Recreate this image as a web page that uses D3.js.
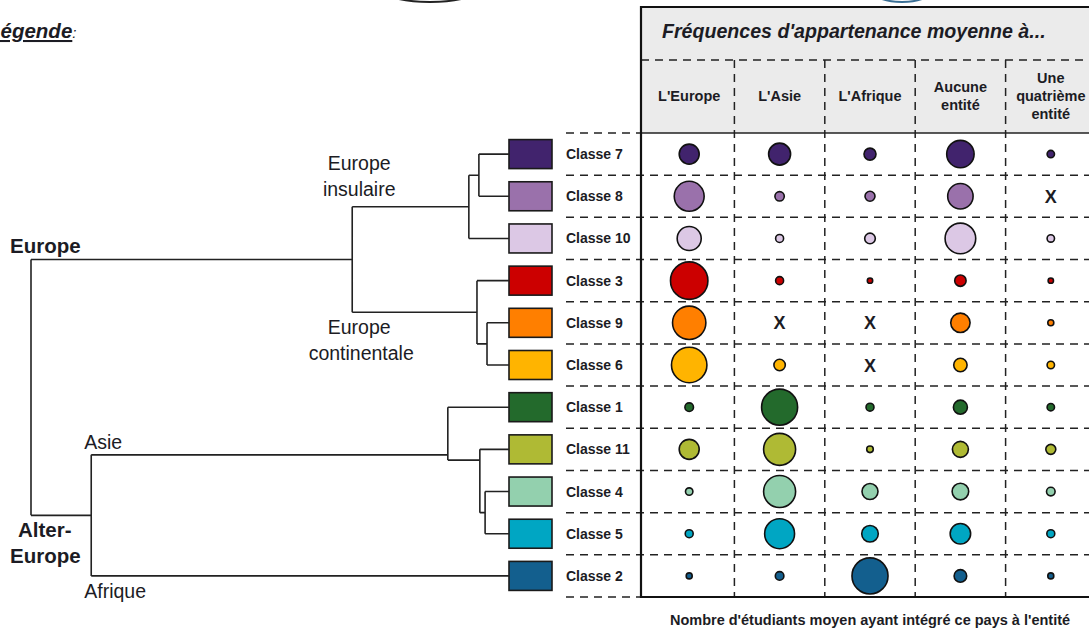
<!DOCTYPE html>
<html lang="fr">
<head>
<meta charset="utf-8">
<title>Classes et entités</title>
<script src="https://cdn.jsdelivr.net/npm/d3@7"></script>
<style>
	body { margin: 0; background: #fff; font-family: "Liberation Sans", Arial, sans-serif; }
	svg { display: block; }
	.rule { stroke: #222; stroke-width: 1.5; stroke-dasharray: 8 6; fill: none; }
	.branch { stroke: #222; stroke-width: 1.6; fill: none; }
	.lbl { fill: #1c1c24; }
</style>
</head>
<body>
<svg id="chart" width="1089" height="632"></svg>
<script>
// leaf order of the dendrogram = row order of the table
var classes = ["Classe 7", "Classe 8", "Classe 10", "Classe 3", "Classe 9", "Classe 6",
	"Classe 1", "Classe 11", "Classe 4", "Classe 5", "Classe 2"]
var classColors = ["#41236d", "#9a71ab", "#dcc8e5", "#cc0000", "#ff7f00", "#ffb400",
	"#236a2c", "#afba34", "#93d0ae", "#00a6c3", "#135f8e"]
var entities = ["europe", "asie", "afrique", "aucune", "quatrieme"]
var entityLabels = [["L'Europe"], ["L'Asie"], ["L'Afrique"], ["Aucune", "entité"], ["Une", "quatrième", "entité"]]

// mean number of students (relative units), one row per class; null = "X"
var values = [
	[27.7, 33.5, 10, 52, 3.8],
	[62, 6.1, 6.9, 44.7, null],
	[40, 4.4, 7.8, 65, 3.8],
	[97, 4.4, 2, 9, 2],
	[77, null, null, 26, 2.5],
	[87, 9, null, 12.4, 3.8],
	[5.1, 90, 4.4, 13.6, 3.8],
	[27.7, 71, 3, 17.7, 6.9],
	[3.8, 71, 17.7, 19, 5.1],
	[4.4, 62, 19, 29, 4.4],
	[2.5, 5.1, 90, 11, 2.5]
]

// dendrogram: h = merge height, bias = where the parent link joins the vertical (0.5 = middle)
var tree = {name: "root", h: 100, children: [
	{name: "Europe", h: 32.8, children: [
		{name: "Europe insulaire", h: 8.4, children: [
			{h: 6.3, children: [{name: "Classe 7"}, {name: "Classe 8"}]},
			{name: "Classe 10"}]},
		{name: "Europe continentale", h: 6.7, children: [
			{name: "Classe 3"},
			{h: 4.6, children: [{name: "Classe 9"}, {name: "Classe 6"}]}]}]},
	{name: "Alter-Europe", h: 87.4, children: [
		{name: "Asie", h: 12.8, bias: 0.9, children: [
			{name: "Classe 1"},
			{h: 6.1, bias: 0.17, children: [
				{name: "Classe 11"},
				{h: 5.0, children: [{name: "Classe 4"}, {name: "Classe 5"}]}]}]},
		{name: "Classe 2"}]}
]}

var svg = d3.select("#chart")
var W = 1089

var row = d3.scaleBand().domain(classes).range([133, 597])
var col = d3.scaleBand().domain(entities).range([644, 1096])
var rad = d3.scaleSqrt().domain([0, 100]).range([0, 19])
var hx = d3.scaleLinear().domain([0, 100]).range([509, 31])
var yc = function(c) { return row(c) + row.bandwidth() / 2 }
var tableL = 641, tableT = 7, titleB = 60, headB = 133, tableB = 597

// small cut-off shapes at the top edge
svg.append("ellipse").attr("cx", 430).attr("cy", -10).attr("rx", 47).attr("ry", 12)
	.attr("fill", "none").attr("stroke", "#222").attr("stroke-width", 2)
svg.append("ellipse").attr("cx", 902).attr("cy", -8).attr("rx", 28).attr("ry", 10)
	.attr("fill", "none").attr("stroke", "#3a6f95").attr("stroke-width", 2)

// "Légende:" (the L is cut by the page edge, as in the original)
var leg = svg.append("text").attr("x", -12).attr("y", 38).attr("font-size", 20.5).attr("class", "lbl")
leg.append("tspan").attr("font-weight", "bold").attr("font-style", "italic")
	.attr("text-decoration", "underline").text("Légende")
leg.append("tspan").attr("font-style", "italic").attr("font-size", 15).text(":")

// ---- table header ----
svg.append("rect").attr("x", tableL).attr("y", tableT).attr("width", W - tableL + 5)
	.attr("height", headB - tableT).attr("fill", "#ebebeb")
svg.append("text").attr("x", 662).attr("y", 38).attr("font-size", 19.6)
	.attr("font-weight", "bold").attr("font-style", "italic").attr("class", "lbl")
	.text("Fréquences d'appartenance moyenne à...")
svg.append("line").attr("class", "rule").attr("x1", tableL).attr("x2", W + 5)
	.attr("y1", titleB).attr("y2", titleB)

entityLabels.forEach(function(lines, j) {
	var t = svg.append("text").attr("text-anchor", "middle").attr("font-size", 14.5)
		.attr("font-weight", "bold").attr("class", "lbl")
	lines.forEach(function(s, i) {
		t.append("tspan").attr("x", col(entities[j]) + col.bandwidth() / 2)
			.attr("y", 101 + (i - (lines.length - 1) / 2) * 18).text(s)
	})
})

// column separators
svg.selectAll(".vsep").data(entities.slice(1)).enter().append("line")
	.attr("class", "rule vsep")
	.attr("x1", function(d) { return col(d) }).attr("x2", function(d) { return col(d) })
	.attr("y1", titleB).attr("y2", tableB)

// row separators (they run from the class labels across the table)
svg.selectAll(".hsep").data(classes.slice(1)).enter().append("line")
	.attr("class", "rule hsep")
	.attr("x1", 566).attr("x2", W + 5)
	.attr("y1", function(d) { return row(d) }).attr("y2", function(d) { return row(d) })
svg.selectAll(".hedge").data([headB, tableB]).enter().append("line")
	.attr("class", "rule hedge")
	.attr("x1", 566).attr("x2", tableL)
	.attr("y1", function(d) { return d }).attr("y2", function(d) { return d })

// borders
svg.append("line").attr("x1", tableL).attr("x2", W + 5).attr("y1", headB).attr("y2", headB)
	.attr("stroke", "#222").attr("stroke-width", 1.6)
svg.append("path").attr("d", "M" + (W + 5) + "," + tableT + "H" + tableL + "V" + tableB + "H" + (W + 5))
	.attr("fill", "none").attr("stroke", "#111").attr("stroke-width", 2.2)

// ---- cells ----
var cells = []
values.forEach(function(r, i) {
	r.forEach(function(v, j) { cells.push({c: classes[i], e: entities[j], v: v, color: classColors[i]}) })
})
svg.selectAll(".dot").data(cells.filter(function(d) { return d.v != null })).enter().append("circle")
	.attr("class", "dot")
	.attr("cx", function(d) { return col(d.e) + col.bandwidth() / 2 })
	.attr("cy", function(d) { return yc(d.c) })
	.attr("r", function(d) { return rad(d.v) })
	.attr("fill", function(d) { return d.color })
	.attr("stroke", "#111").attr("stroke-width", 1.6)
svg.selectAll(".miss").data(cells.filter(function(d) { return d.v == null })).enter().append("text")
	.attr("class", "miss lbl")
	.attr("x", function(d) { return col(d.e) + col.bandwidth() / 2 })
	.attr("y", function(d) { return yc(d.c) + 6.5 })
	.attr("text-anchor", "middle").attr("font-size", 18).attr("font-weight", "bold")
	.text("X")

// ---- class swatches and labels ----
svg.selectAll(".sw").data(classes).enter().append("rect")
	.attr("class", "sw")
	.attr("x", 509).attr("width", 43).attr("height", 29)
	.attr("y", function(d) { return yc(d) - 14.5 })
	.attr("fill", function(d, i) { return classColors[i] })
	.attr("stroke", "#1a1a1a").attr("stroke-width", 1.6)
svg.selectAll(".cl").data(classes).enter().append("text")
	.attr("class", "cl lbl")
	.attr("x", 566).attr("y", function(d) { return yc(d) + 5 })
	.attr("font-size", 14).attr("font-weight", "bold")
	.text(function(d) { return d })

// ---- dendrogram ----
var root = d3.hierarchy(tree)
root.eachAfter(function(n) {
	if (!n.children) { n.py = yc(n.data.name); n.px = hx(0); return }
	var a = n.children[0].py, b = n.children[n.children.length - 1].py
	var bias = n.data.bias == null ? 0.5 : n.data.bias
	n.py = a + bias * (b - a)
	n.px = hx(n.data.h)
})
var segs = []
root.each(function(n) {
	if (!n.children) return
	var a = n.children[0].py, b = n.children[n.children.length - 1].py
	segs.push("M" + n.px + "," + a + "V" + b)
	n.children.forEach(function(c) { segs.push("M" + n.px + "," + c.py + "H" + c.px) })
})
svg.append("path").attr("class", "branch").attr("d", segs.join(""))

var node = {}
root.each(function(n) { if (n.data.name) node[n.data.name] = n })

var eu = node["Europe"], ae = node["Alter-Europe"], ins = node["Europe insulaire"],
	con = node["Europe continentale"], asie = node["Asie"], afr = node["Classe 2"]

svg.append("text").attr("class", "lbl").attr("x", 10).attr("y", eu.py - 7)
	.attr("font-size", 20.5).attr("font-weight", "bold").text("Europe")
var aet = svg.append("text").attr("class", "lbl").attr("font-size", 20.5).attr("font-weight", "bold")
aet.append("tspan").attr("x", 18).attr("y", ae.py + 22).text("Alter-")
aet.append("tspan").attr("x", 10).attr("y", ae.py + 48).text("Europe")

var it = svg.append("text").attr("class", "lbl").attr("font-size", 19.5).attr("text-anchor", "middle")
it.append("tspan").attr("x", eu.px + 7).attr("y", ins.py - 37).text("Europe")
it.append("tspan").attr("x", eu.px + 7).attr("y", ins.py - 11).text("insulaire")
var ct = svg.append("text").attr("class", "lbl").attr("font-size", 19.5).attr("text-anchor", "middle")
ct.append("tspan").attr("x", eu.px + 7).attr("y", con.py + 22).text("Europe")
ct.append("tspan").attr("x", eu.px + 9).attr("y", con.py + 48).text("continentale")

svg.append("text").attr("class", "lbl").attr("x", ae.px - 7).attr("y", asie.py - 6)
	.attr("font-size", 19.5).text("Asie")
svg.append("text").attr("class", "lbl").attr("x", ae.px - 7).attr("y", afr.py + 22)
	.attr("font-size", 19.5).text("Afrique")

// caption under the table
svg.append("text").attr("class", "lbl").attr("x", 870).attr("y", 625).attr("text-anchor", "middle")
	.attr("font-size", 14.5).attr("font-weight", "bold")
	.text("Nombre d'étudiants moyen ayant intégré ce pays à l'entité")
</script>
</body>
</html>
